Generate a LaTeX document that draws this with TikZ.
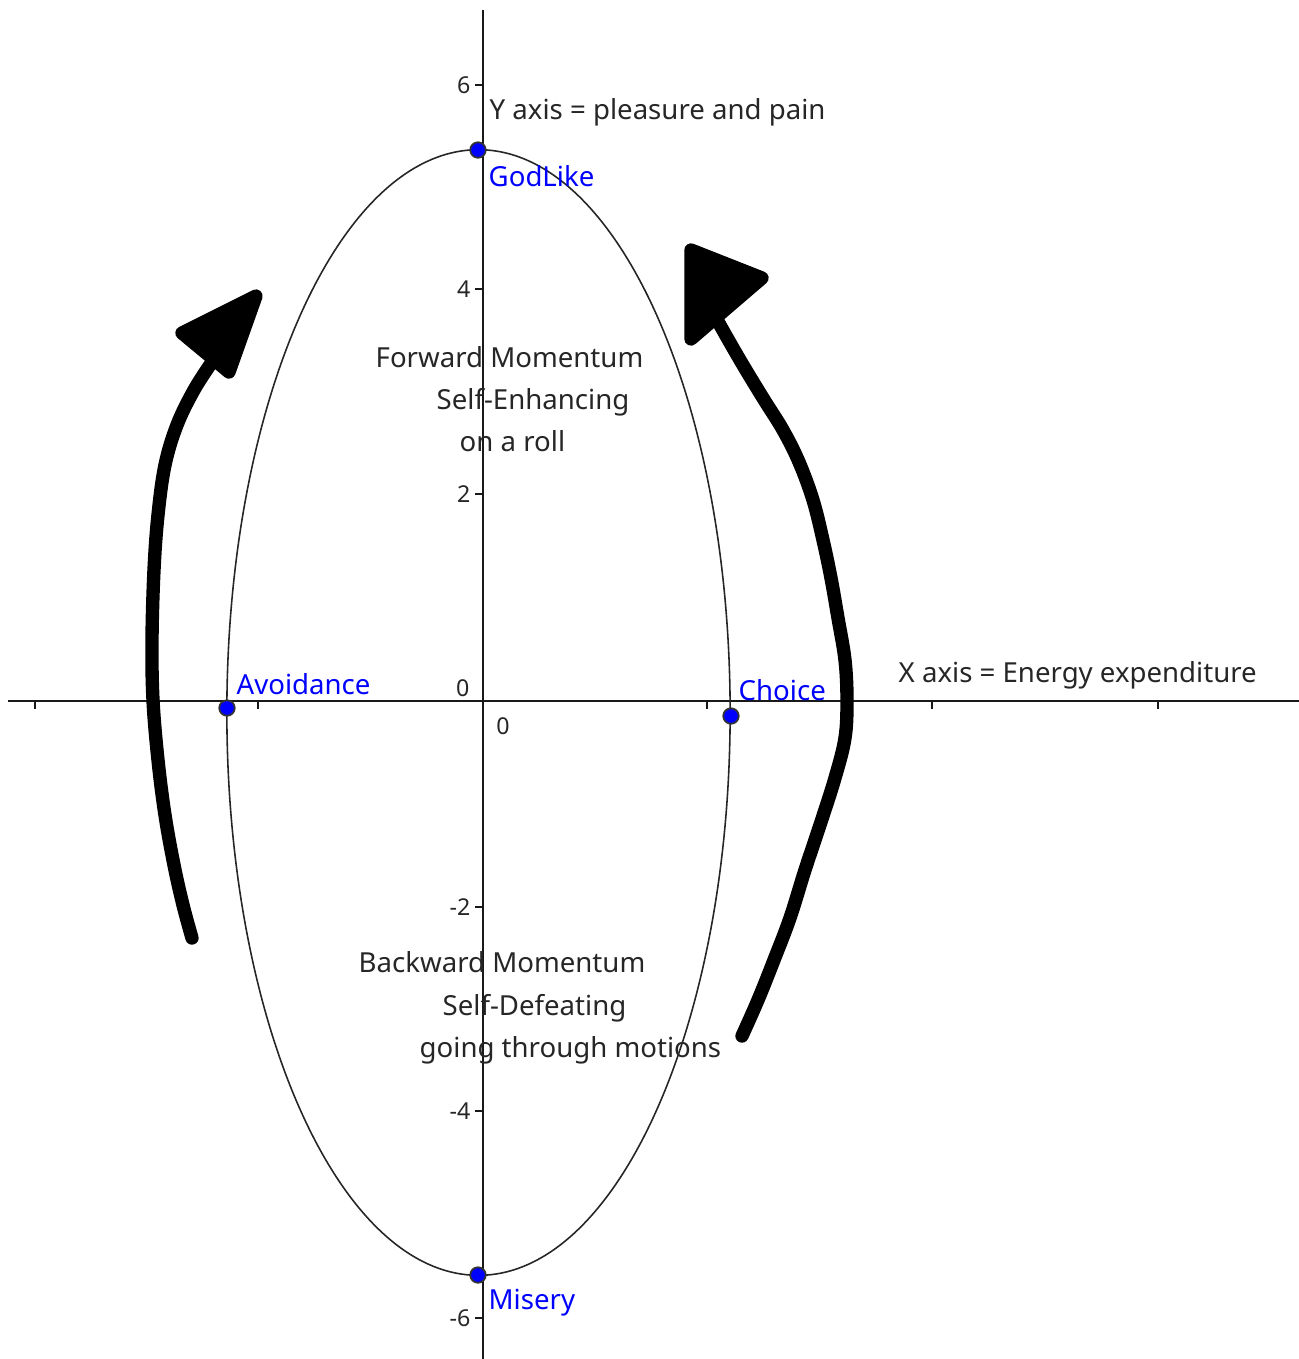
\documentclass[tikz,border=0pt]{standalone}
\usepackage{fontspec}
\setmainfont{Noto Sans}
\begin{document}
\begin{tikzpicture}[x=0.01cm,y=-0.01cm,
  axis/.style={line width=0.65pt,black!90},
  curve/.style={line width=0.45pt,black!85},
  txt/.style={anchor=base west,inner sep=0,font=\fontsize{7.85}{9.4}\selectfont,text=black!85},
  lbl/.style={anchor=base west,inner sep=0,font=\fontsize{7.85}{9.4}\selectfont,text=blue},
  ticklbl/.style={anchor=east,inner sep=0,font=\fontsize{6.6}{8}\selectfont,text=black!85},
  pt/.style={circle,fill=blue,draw=black!80,line width=0.5pt,inner sep=0,minimum size=0.155cm},
  stroke/.style={line width=3.8pt,line cap=round,line join=round,black},
  head/.style={line width=3.8pt,line join=round,fill=black,draw=black}]
\useasboundingbox (0,0) rectangle (1299,1359);
% axes
\coordinate (xl) at (8,701);
\coordinate (xr) at (1299,701);
\coordinate (yt) at (483,10);
\coordinate (yb) at (483,1359);
\draw[axis] (xl) -- (xr);
\draw[axis] (yt) -- (yb);
\foreach \x in {35,258,707,932,1158} \draw[axis] (\x,701) -- (\x,709);
\foreach \y/\t in {85/6,289/4,494/2,907/-2,1111/-4,1318/-6} {
  \draw[axis] (475,\y) -- (483,\y);
  \node[ticklbl] (t\y) at (471,\y) {\t};
}
\node[ticklbl] (zeroy) at (470,688) {0};
\node[ticklbl,anchor=center] (zerox) at (503,726) {0};
% ellipse
\draw[curve] (478.5,712.5) ellipse [x radius=2.515cm, y radius=5.625cm];
% points
\node[pt] (godlike) at (478,150) {};
\node[pt] (misery) at (478,1275) {};
\node[pt] (avoid) at (227,708) {};
\node[pt] (choice) at (731,716) {};
% labels
\node[lbl] (lgod) at (488,186) {GodLike};
\node[lbl] (lmis) at (488,1309) {Misery};
\node[lbl] (lavo) at (236,694) {Avoidance};
\node[lbl] (lcho) at (738,700) {Choice};
\node[txt] (yaxis) at (489,119) {Y axis = pleasure and pain};
\node[txt] (xaxis) at (898,682) {X axis = Energy expenditure};
\node[txt] (f1) at (375,367) {Forward Momentum};
\node[txt] (f2) at (436,409) {Self-Enhancing};
\node[txt] (f3) at (459,451) {on a roll};
\node[txt] (b1) at (358,972) {Backward Momentum};
\node[txt] (b2) at (442,1015) {Self-Defeating};
\node[txt] (b3) at (419,1057) {going through motions};
% left arrow
\draw[stroke] plot[smooth,tension=0.6] coordinates {(192,938) (183,905) (174,865) (165,815) (158,760) (153,700) (152,640) (154,570) (158,515) (165,465) (177,425) (194,390) (212,362)};
\draw[head] (182,333) -- (256,296) -- (229,372) -- cycle;
% right arrow
\draw[stroke] plot[smooth,tension=0.6] coordinates {(742,1036) (758,1000) (774,960) (790,918) (805,870) (820,825) (835,778) (845,738) (847,700) (845,660) (838,618) (831,578) (823,540) (813,500) (799,462) (783,430) (763,398) (740,360) (716,318)};
\draw[head] (691,250) -- (762,278) -- (691,339) -- cycle;
\end{tikzpicture}
\end{document}
